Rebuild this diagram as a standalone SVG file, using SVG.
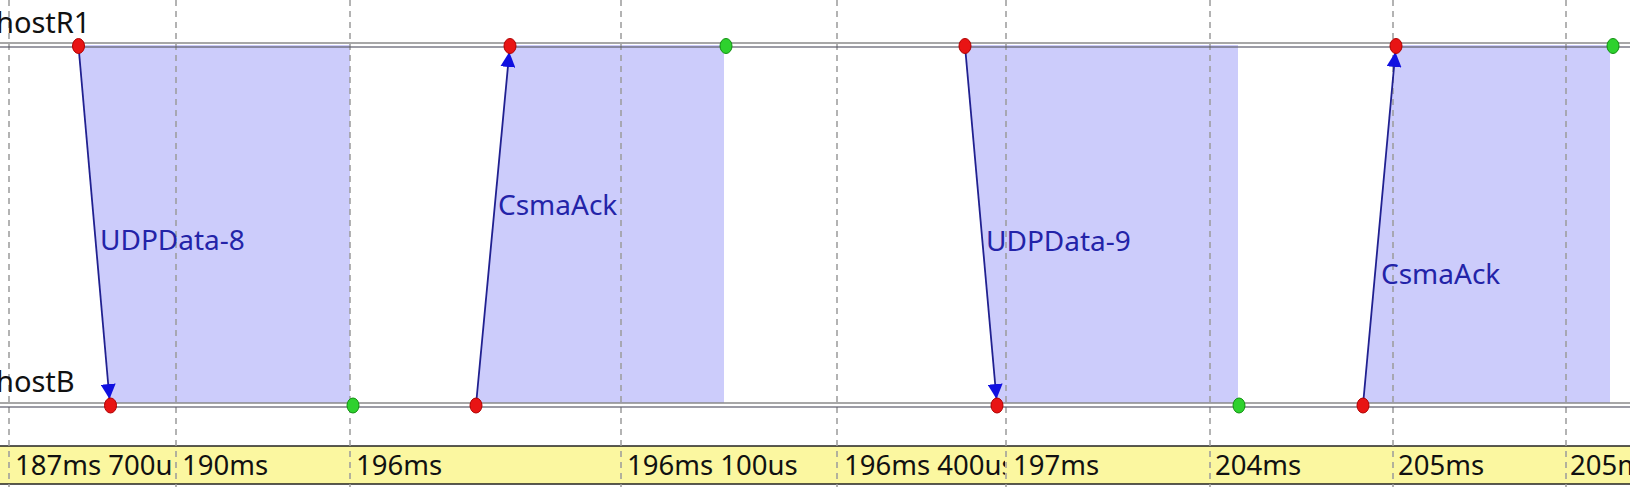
<svg xmlns="http://www.w3.org/2000/svg" width="1630" height="487" viewBox="0 0 1630 487">
<style>
.shade{fill:#ccccfb;stroke:none}
.axis1{stroke:#8a8a8a;stroke-width:1.6;fill:none}
.axis2{stroke:#5a5a6a;stroke-width:1.6;fill:none;stroke-opacity:0.8}
.grid{stroke:#9a9a9a;stroke-width:1.5;stroke-dasharray:6 5;fill:none}
.msg{stroke:#202090;stroke-width:1.8;fill:none}
.lbl{font-family:"Noto Sans","Open Sans","DejaVu Sans",sans-serif;font-size:28px;fill:#2323a8}
.host{font-family:"Noto Sans","Open Sans","DejaVu Sans",sans-serif;font-size:29px;fill:#111}
.tick{font-family:"Noto Sans","Open Sans","DejaVu Sans",sans-serif;font-size:27.5px;fill:#111}
.red{fill:#e81414;stroke:#b00000;stroke-width:1}
.green{fill:#2ed12e;stroke:#109010;stroke-width:1}
</style>
<defs>
<marker id="ah" viewBox="0 0 15 15" refX="15" refY="7.5" markerWidth="15" markerHeight="15" markerUnits="userSpaceOnUse" orient="auto">
<path d="M0,0 L15,7.5 L0,15 z" fill="#1010e0"/>
</marker>
<clipPath id="c400"><rect x="837" y="440" width="168" height="47"/></clipPath>
</defs>
<rect width="1630" height="487" fill="#ffffff"/>
<g id="shading">
<polygon class="shade" points="78.5,45 350,45 350,403 110.5,403"/>
<polygon class="shade" points="476,403 510,45 724,45 724,403"/>
<polygon class="shade" points="965,45 1238,45 1238,403 997,403"/>
<polygon class="shade" points="1363,403 1396,45 1610,45 1610,403"/>
</g>
<g id="timeline">
<rect x="0" y="446" width="1630" height="38" fill="#fbf7a0"/>
<line x1="0" y1="446" x2="1630" y2="446" stroke="#222" stroke-width="1.5"/>
<line x1="0" y1="484" x2="1630" y2="484" stroke="#222" stroke-width="1.5"/>
</g>
<g id="grid">
<line class="grid" x1="9" y1="0" x2="9" y2="487"/>
<line class="grid" x1="176" y1="0" x2="176" y2="487"/>
<line class="grid" x1="350" y1="0" x2="350" y2="487"/>
<line class="grid" x1="621" y1="0" x2="621" y2="487"/>
<line class="grid" x1="837" y1="0" x2="837" y2="487"/>
<line class="grid" x1="1006" y1="0" x2="1006" y2="487"/>
<line class="grid" x1="1210" y1="0" x2="1210" y2="487"/>
<line class="grid" x1="1393" y1="0" x2="1393" y2="487"/>
<line class="grid" x1="1566" y1="0" x2="1566" y2="487"/>
</g>
<g id="ticks">
<text class="tick" x="15" y="475">187ms 700u</text>
<text class="tick" x="182" y="475">190ms</text>
<text class="tick" x="356" y="475">196ms</text>
<text class="tick" x="627" y="475">196ms 100us</text>
<text class="tick" x="844" y="475" clip-path="url(#c400)">196ms 400us</text>
<text class="tick" x="1013" y="475">197ms</text>
<text class="tick" x="1215" y="475">204ms</text>
<text class="tick" x="1398" y="475">205ms</text>
<text class="tick" x="1570" y="475">205ms</text>
</g>
<g id="hostR1">
<line class="axis1" x1="0" y1="43" x2="1630" y2="43"/>
<line class="axis2" x1="0" y1="47" x2="1630" y2="47"/>
<text class="host" x="-4" y="33">hostR1</text>
</g>
<g id="hostB">
<line class="axis1" x1="0" y1="403" x2="1630" y2="403"/>
<line class="axis2" x1="0" y1="407" x2="1630" y2="407"/>
<text class="host" x="-4" y="392">hostB</text>
</g>
<g id="connectors">
<line class="msg" x1="78.5" y1="46" x2="109.5" y2="399" marker-end="url(#ah)"/>
<line class="msg" x1="476" y1="405" x2="509.3" y2="52" marker-end="url(#ah)"/>
<line class="msg" x1="965" y1="46" x2="996.5" y2="399" marker-end="url(#ah)"/>
<line class="msg" x1="1363" y1="405" x2="1395.4" y2="52" marker-end="url(#ah)"/>
<text class="lbl" x="100" y="250">UDPData-8</text>
<text class="lbl" x="498" y="215">CsmaAck</text>
<text class="lbl" x="986" y="251">UDPData-9</text>
<text class="lbl" x="1381" y="284">CsmaAck</text>
</g>
<g id="ev1"><ellipse class="red" cx="78.5" cy="46" rx="6" ry="7.5"/></g>
<g id="ev2"><ellipse class="red" cx="110.5" cy="405.5" rx="6" ry="7.5"/></g>
<g id="ev3"><ellipse class="green" cx="353" cy="405.5" rx="6" ry="7.5"/></g>
<g id="ev4"><ellipse class="red" cx="476" cy="405.5" rx="6" ry="7.5"/></g>
<g id="ev5"><ellipse class="red" cx="510" cy="46" rx="6" ry="7.5"/></g>
<g id="ev6"><ellipse class="green" cx="726" cy="46" rx="6" ry="7.5"/></g>
<g id="ev7"><ellipse class="red" cx="965" cy="46" rx="6" ry="7.5"/></g>
<g id="ev8"><ellipse class="red" cx="997" cy="405.5" rx="6" ry="7.5"/></g>
<g id="ev9"><ellipse class="green" cx="1239" cy="405.5" rx="6" ry="7.5"/></g>
<g id="ev10"><ellipse class="red" cx="1363" cy="405.5" rx="6" ry="7.5"/></g>
<g id="ev11"><ellipse class="red" cx="1396" cy="46" rx="6" ry="7.5"/></g>
<g id="ev12"><ellipse class="green" cx="1613" cy="46" rx="6" ry="7.5"/></g>
</svg>
